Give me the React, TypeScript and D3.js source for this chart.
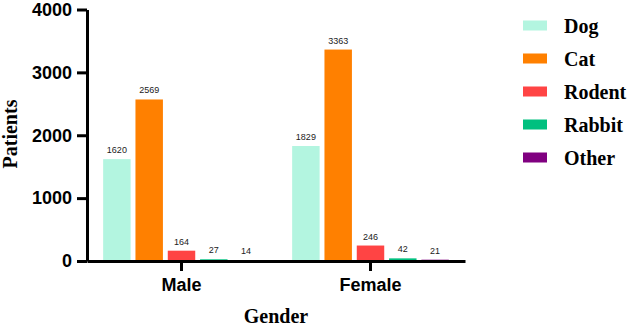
import React, { useEffect, useRef } from 'react';
import * as d3 from 'd3';

const genders = ['Male', 'Female'];
const species = ['Dog', 'Cat', 'Rodent', 'Rabbit', 'Other'];
const maleCounts = [1620, 2569, 164, 27, 14];
const femaleCounts = [1829, 3363, 246, 42, 21];
const speciesColors = ['#b3f5e0', '#ff8000', '#ff4444', '#00c07f', '#800080'];
const yTicks = [0, 1000, 2000, 3000, 4000];

const App = () => {
  const ref = useRef<SVGSVGElement | null>(null);

  useEffect(() => {
    const svg = d3.select(ref.current);
    svg.selectAll('*').remove();

    const counts: Record<string, number[]> = { Male: maleCounts, Female: femaleCounts };

    const x = d3.scaleBand().domain(genders).range([87, 465]).padding(0);
    const xs = d3.scaleBand().domain(species).range([0, x.bandwidth()])
      .paddingInner(0.15).paddingOuter(0.5);
    const y = d3.scaleLinear().domain([0, 4000]).range([261, 9.5]);
    const color = d3.scaleOrdinal<string, string>().domain(species).range(speciesColors);

    // bars
    const groups = svg.append('g').selectAll('g')
      .data(genders)
      .enter().append('g')
      .attr('transform', d => `translate(${x(d)},0)`);

    groups.selectAll('rect')
      .data(g => species.map((s, i) => ({ s, v: counts[g][i] })))
      .enter().append('rect')
      .attr('x', d => xs(d.s)!)
      .attr('y', d => y(d.v))
      .attr('width', xs.bandwidth())
      .attr('height', d => y(0) - y(d.v))
      .attr('fill', d => color(d.s));

    groups.selectAll('text')
      .data(g => species.map((s, i) => ({ s, v: counts[g][i] })))
      .enter().append('text')
      .attr('x', d => xs(d.s)! + xs.bandwidth() / 2)
      .attr('y', d => y(d.v) - 6)
      .attr('text-anchor', 'middle')
      .style('font-family', 'Liberation Sans, Arial, sans-serif')
      .style('font-size', '9px')
      .attr('fill', '#222')
      .text(d => d.v);

    // y axis
    const yAxis = svg.append('g')
      .attr('transform', 'translate(87,0)')
      .call(d3.axisLeft(y).tickValues(yTicks).tickFormat(d3.format('d'))
        .tickSize(10).tickPadding(5).tickSizeOuter(0));
    yAxis.select('.domain').attr('stroke', '#000').attr('stroke-width', 3);
    yAxis.selectAll('.tick line').attr('stroke', '#000').attr('stroke-width', 3);
    yAxis.selectAll('.tick text')
      .attr('fill', '#000')
      .style('font-family', 'Liberation Sans, Arial, sans-serif')
      .style('font-size', '18px')
      .style('font-weight', 'bold');

    // x axis
    const xAxis = svg.append('g')
      .attr('transform', 'translate(0,261)')
      .call(d3.axisBottom(x).tickSize(10).tickPadding(7).tickSizeOuter(0));
    xAxis.select('.domain').attr('stroke', '#000').attr('stroke-width', 3);
    xAxis.selectAll('.tick line').attr('stroke', '#000').attr('stroke-width', 3);
    xAxis.selectAll('.tick text')
      .attr('fill', '#000')
      .style('font-family', 'Liberation Sans, Arial, sans-serif')
      .style('font-size', '18px')
      .style('font-weight', 'bold');

    // axis titles
    svg.append('text')
      .attr('x', 276)
      .attr('y', 323)
      .attr('text-anchor', 'middle')
      .style('font-family', 'Liberation Serif, Times New Roman, serif')
      .style('font-size', '20px')
      .style('font-weight', 'bold')
      .text('Gender');

    svg.append('text')
      .attr('transform', 'translate(17,134) rotate(-90)')
      .attr('text-anchor', 'middle')
      .style('font-family', 'Liberation Serif, Times New Roman, serif')
      .style('font-size', '20px')
      .style('font-weight', 'bold')
      .text('Patients');

    // legend
    const legend = svg.append('g').selectAll('g')
      .data(species)
      .enter().append('g')
      .attr('transform', (d, i) => `translate(523,${25.5 + i * 33})`);
    legend.append('rect')
      .attr('x', 0).attr('y', -5)
      .attr('width', 24).attr('height', 10)
      .attr('fill', d => color(d));
    legend.append('text')
      .attr('x', 41).attr('y', 7)
      .style('font-family', 'Liberation Serif, Times New Roman, serif')
      .style('font-size', '20px')
      .style('font-weight', 'bold')
      .text(d => d);
  }, []);

  return (
    <svg ref={ref} width={630} height={326}
      style={{ position: 'absolute', left: 0, top: 0, background: '#fff' }} />
  );
};

export default App;
